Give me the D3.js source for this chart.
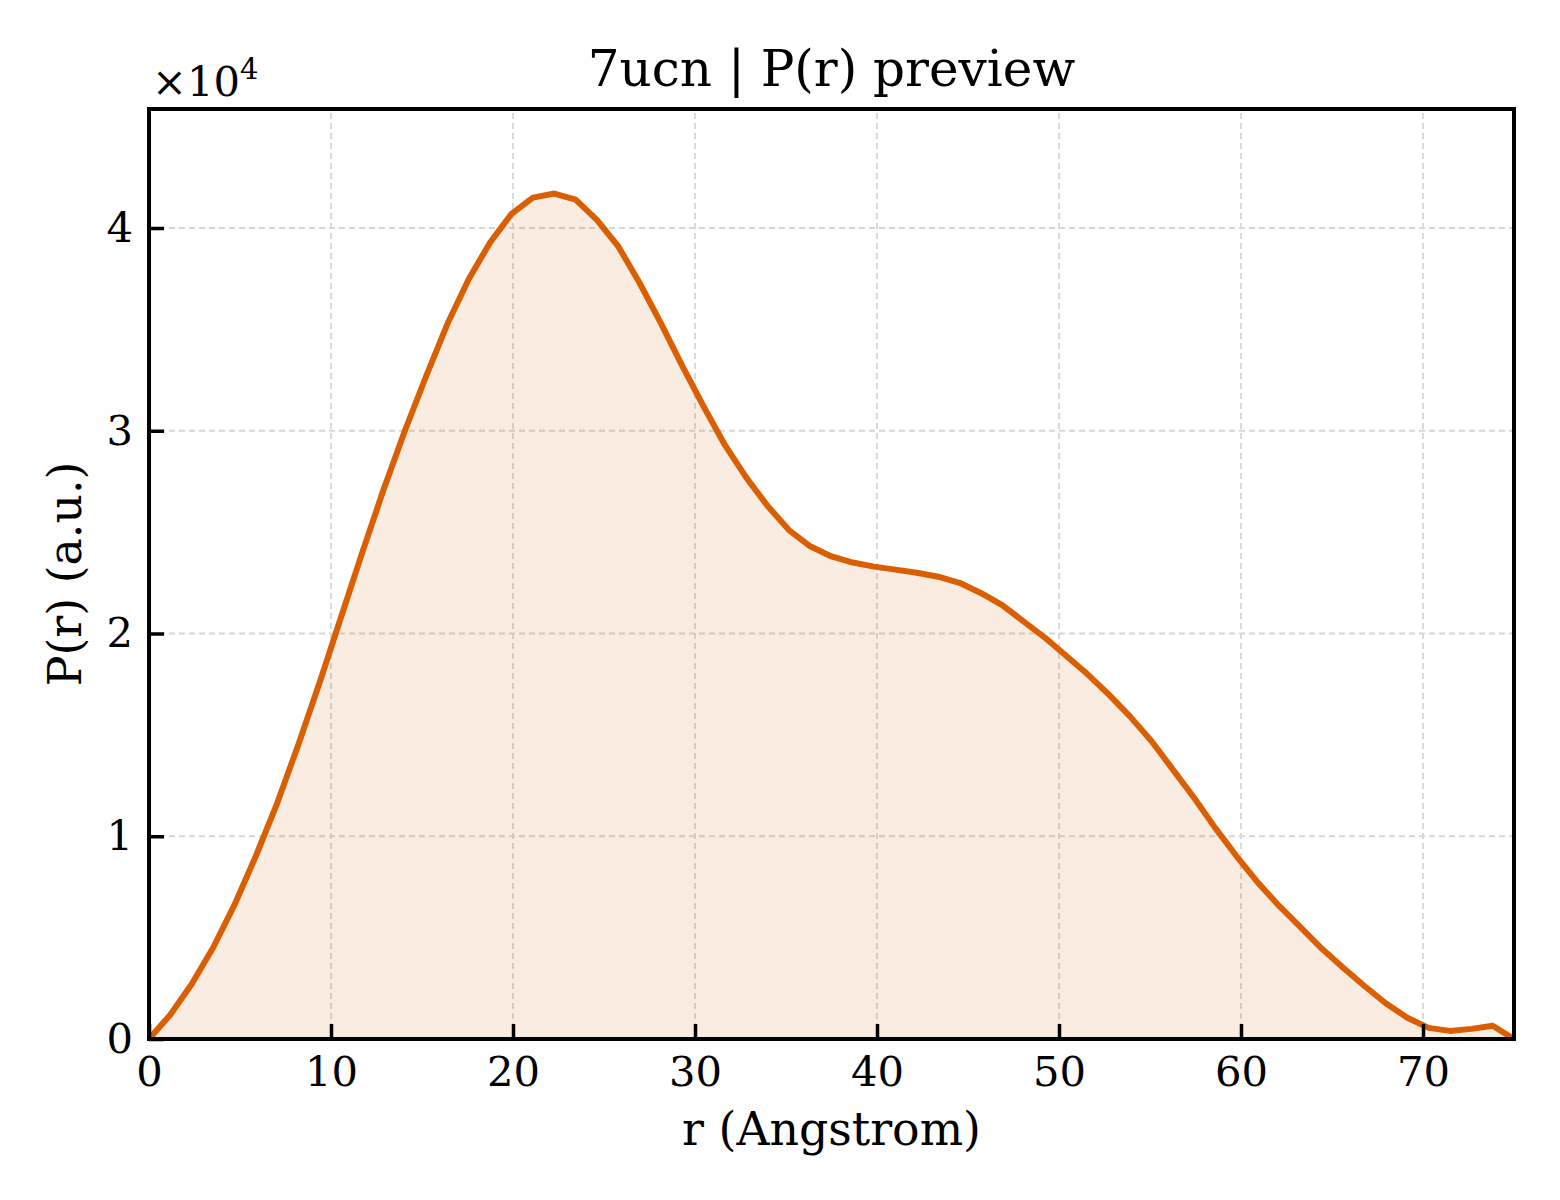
<!DOCTYPE html>
<html>
  <head>
    <title>7ucn | P(r) preview</title>
    <script src="https://cdn.jsdelivr.net/npm/d3@7/dist/d3.min.js" charset="utf-8"></script>
    <style>
body {
    margin: 0;
    background: white;
}
text {
    font-family: "DejaVu Serif", serif;
    fill: #000;
}
</style>
  </head>
  <body>
<script>
var rValues = [0, 1.17, 2.34, 3.52, 4.69, 5.86, 7.03, 8.2, 9.38, 10.55,
  11.72, 12.89, 14.06, 15.23, 16.41, 17.58, 18.75, 19.92, 21.09, 22.27,
  23.44, 24.61, 25.78, 26.95, 28.13, 29.3, 30.47, 31.64, 32.81, 33.98,
  35.16, 36.33, 37.5, 38.67, 39.84, 41.02, 42.19, 43.36, 44.53, 45.7,
  46.88, 48.05, 49.22, 50.39, 51.56, 52.73, 53.91, 55.08, 56.25, 57.42,
  58.59, 59.77, 60.94, 62.11, 63.28, 64.45, 65.63, 66.8, 67.97, 69.14,
  70.31, 71.48, 72.66, 73.83, 75];
var prValues = [0, 1200, 2700, 4500, 6600, 9000, 11600, 14500, 17600, 20800,
  24000, 27100, 30000, 32700, 35300, 37500, 39300, 40700, 41500, 41700,
  41400, 40400, 39100, 37300, 35300, 33200, 31200, 29300, 27700, 26300,
  25100, 24300, 23800, 23500, 23300, 23150, 23000, 22800, 22500, 22000,
  21400, 20600, 19800, 18900, 18000, 17000, 15900, 14700, 13300, 11900,
  10400, 9000, 7700, 6550, 5500, 4450, 3500, 2600, 1750, 1050,
  550, 400, 500, 650, 0];
var xTicks = [0, 10, 20, 30, 40, 50, 60, 70];
var yTicks = [0, 10000, 20000, 30000, 40000];

var width = 1560;
var height = 1200;
var margin = {left: 149, right: 46, top: 109, bottom: 161};
var lineColor = '#d95f02';

var svg = d3.select("body")
  .append("svg")
  .attr("width", width)
  .attr("height", height);

var x = d3.scaleLinear()
  .domain([0, 75])
  .range([margin.left, width - margin.right]);
var y = d3.scaleLinear()
  .domain([0, d3.max(prValues) * 1.1])
  .range([height - margin.bottom, margin.top]);

var data = rValues.map(function(r, i) { return {r: r, p: prValues[i]}; });

// grid
var grid = svg.append("g")
  .attr("stroke", "#d6d6d6")
  .attr("stroke-width", 1.8)
  .attr("stroke-dasharray", "6,4");
grid.selectAll("line.gx")
  .data(xTicks.filter(function(d) { return d > 0; }))
  .enter().append("line")
  .attr("x1", function(d) { return x(d); })
  .attr("x2", function(d) { return x(d); })
  .attr("y1", y.range()[0])
  .attr("y2", y.range()[1]);
grid.selectAll("line.gy")
  .data(yTicks.filter(function(d) { return d > 0; }))
  .enter().append("line")
  .attr("x1", x.range()[0])
  .attr("x2", x.range()[1])
  .attr("y1", function(d) { return y(d); })
  .attr("y2", function(d) { return y(d); });

// filled area + curve
var area = d3.area()
  .x(function(d) { return x(d.r); })
  .y0(y(0))
  .y1(function(d) { return y(d.p); });
svg.append("path")
  .datum(data)
  .attr("fill", lineColor)
  .attr("fill-opacity", 0.12)
  .attr("d", area);

var line = d3.line()
  .x(function(d) { return x(d.r); })
  .y(function(d) { return y(d.p); });
svg.append("path")
  .datum(data)
  .attr("fill", "none")
  .attr("stroke", lineColor)
  .attr("stroke-width", 6)
  .attr("stroke-linejoin", "round")
  .attr("d", line);

// axes (ticks pointing inward)
var xAxis = svg.append("g")
  .attr("transform", "translate(0," + y(0) + ")")
  .call(d3.axisBottom(x).tickValues(xTicks).tickSizeInner(-15).tickSizeOuter(0).tickPadding(17));
var yAxis = svg.append("g")
  .attr("transform", "translate(" + x(0) + ",0)")
  .call(d3.axisLeft(y).tickValues(yTicks).tickSizeInner(-15).tickSizeOuter(0).tickPadding(16)
    .tickFormat(function(d) { return d / 10000; }));
[xAxis, yAxis].forEach(function(ax) {
  ax.select(".domain").remove();
  ax.selectAll(".tick line").attr("stroke", "#000").attr("stroke-width", 3.5);
  ax.selectAll(".tick text")
    .attr("font-family", "DejaVu Serif")
    .attr("font-size", 41.7)
    .attr("fill", "#000");
});

// frame
svg.append("rect")
  .attr("x", x.range()[0])
  .attr("y", y.range()[1])
  .attr("width", x.range()[1] - x.range()[0])
  .attr("height", y.range()[0] - y.range()[1])
  .attr("fill", "none")
  .attr("stroke", "#000")
  .attr("stroke-width", 4);

// labels
svg.append("text")
  .attr("x", (x.range()[0] + x.range()[1]) / 2)
  .attr("y", 86)
  .attr("text-anchor", "middle")
  .attr("font-size", 50)
  .text("7ucn | P(r) preview");
svg.append("text")
  .attr("x", (x.range()[0] + x.range()[1]) / 2)
  .attr("y", 1145)
  .attr("text-anchor", "middle")
  .attr("font-size", 45.8)
  .text("r (Angstrom)");
svg.append("text")
  .attr("transform", "translate(81," + (y.range()[0] + y.range()[1]) / 2 + ") rotate(-90)")
  .attr("text-anchor", "middle")
  .attr("font-size", 45.8)
  .text("P(r) (a.u.)");

var offset = svg.append("text")
  .attr("x", 152)
  .attr("y", 96)
  .attr("font-size", 41.7);
offset.append("tspan").text("\u00d710");
offset.append("tspan")
  .attr("font-size", 29)
  .attr("dy", -17)
  .text("4");
</script>
  </body>
</html>
